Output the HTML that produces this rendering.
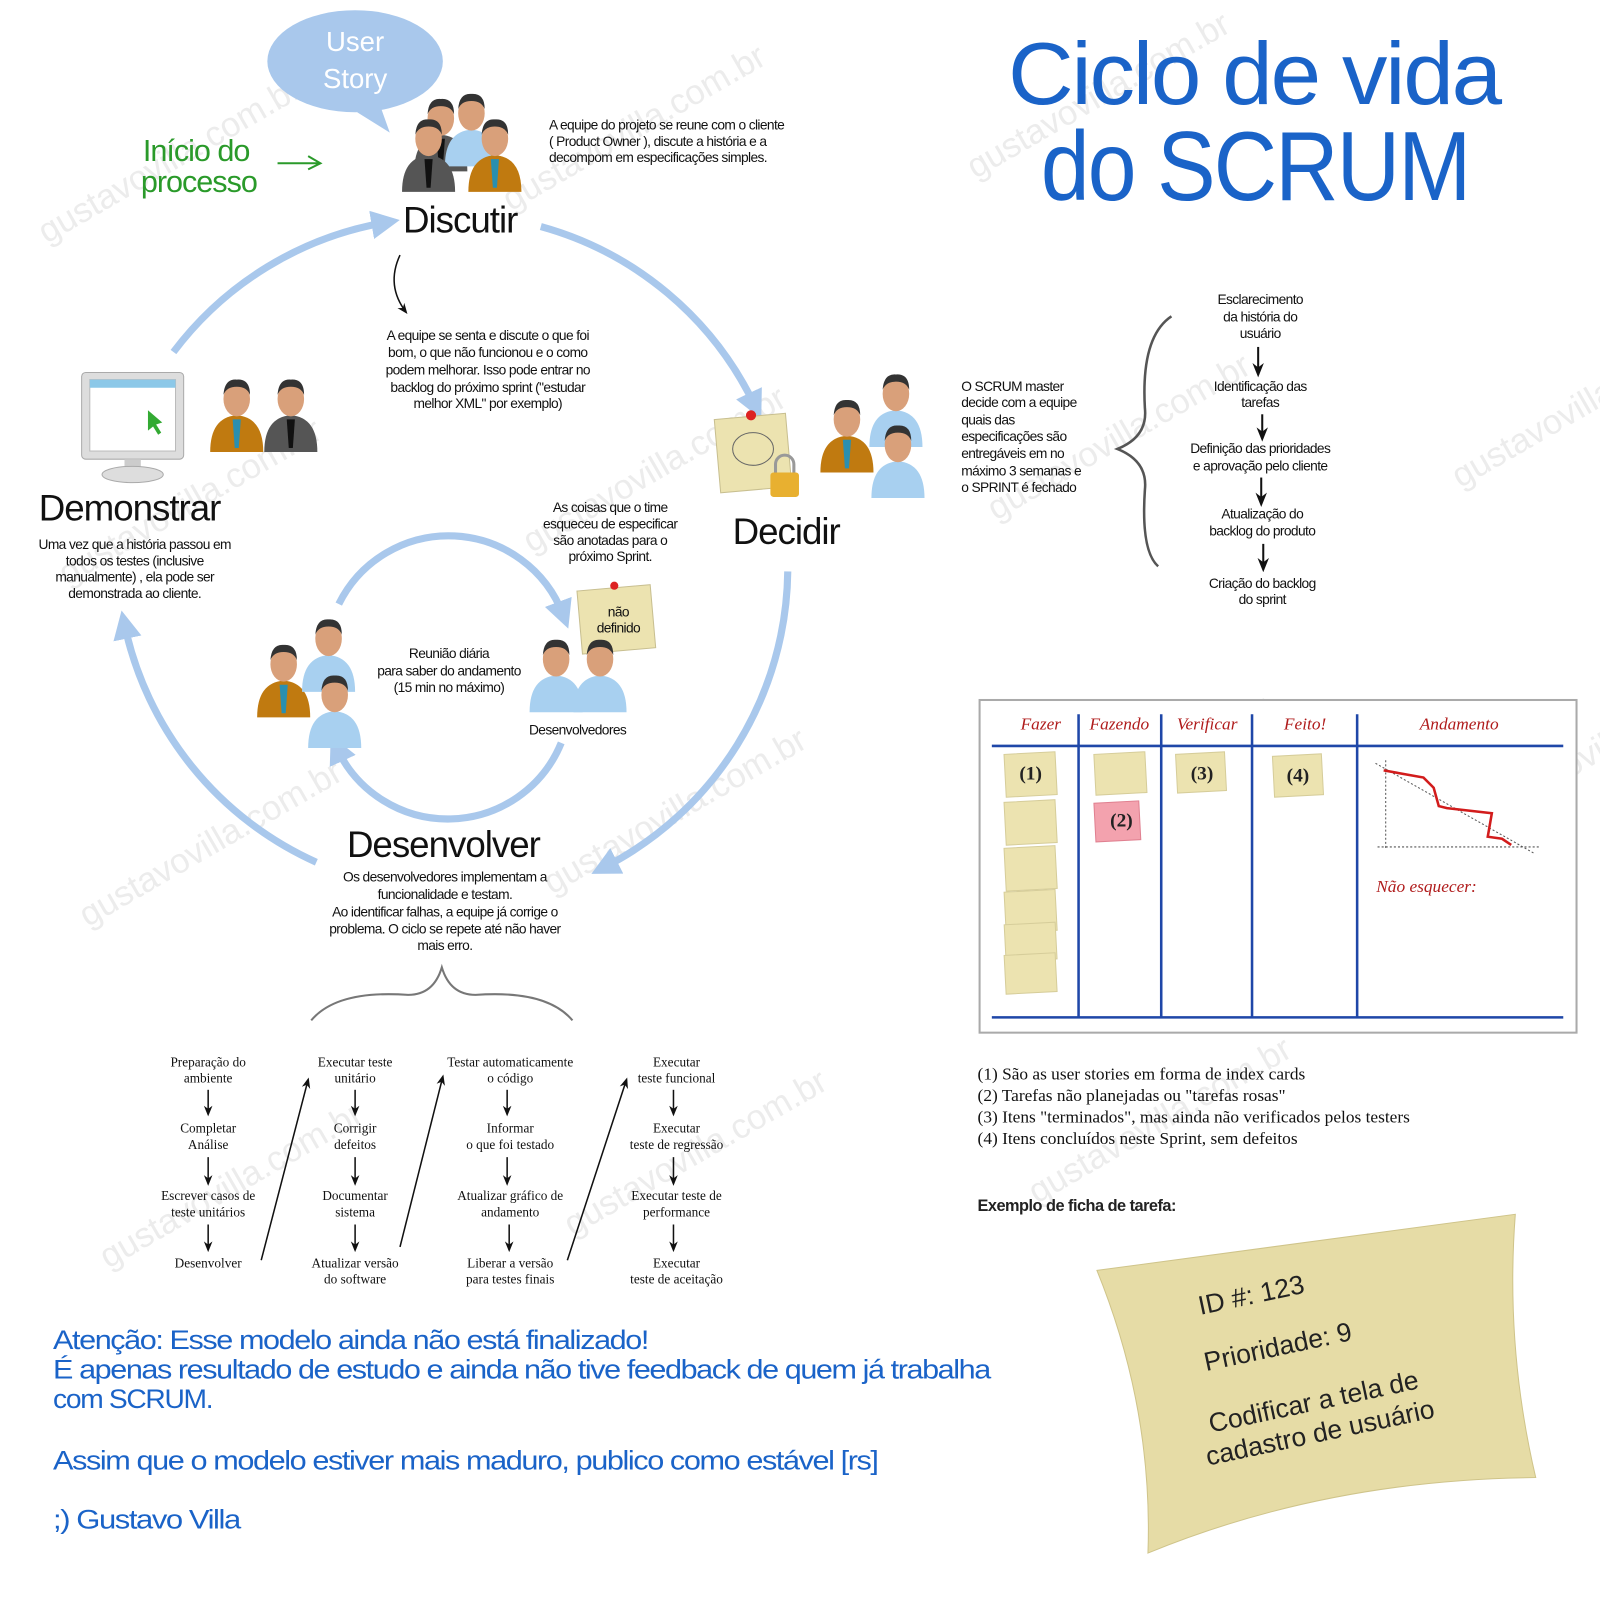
<!DOCTYPE html>
<html><head><meta charset="utf-8"><style>
html,body{margin:0;padding:0;background:#fff;}
svg{display:block}
.h{font-family:"Liberation Sans",sans-serif;}
.s{font-family:"Liberation Serif",serif;font-size:13px;fill:#111;text-anchor:middle}
.sm{font-family:"Liberation Sans",sans-serif;font-size:13.5px;fill:#111;letter-spacing:-0.6px}
.c{text-anchor:middle}
.b{font-family:"Liberation Sans",sans-serif;fill:#1a63c8;font-size:26px;letter-spacing:-1.2px}
.wm{font-family:"Liberation Sans",sans-serif;font-size:34px;fill:#ececec}
</style></head><body>
<svg width="1600" height="1600" viewBox="0 0 1568 1568" xmlns="http://www.w3.org/2000/svg">
<defs>
<marker id="ab" viewBox="0 0 10 10" refX="5" refY="5" markerWidth="4" markerHeight="4" orient="auto"><path d="M0,0 L10,5 L0,10 z" fill="#a9c8ec"/></marker>
<marker id="ak" viewBox="0 0 10 10" refX="8" refY="5" markerWidth="7" markerHeight="7" orient="auto"><path d="M0,1 L10,5 L0,9 L3,5 z" fill="#111"/></marker>
<g id="pO"><path d="M-26,48 Q-26,14 0,12 Q26,14 26,48 z" fill="#c07a10"/><path d="M-4,16 L4,16 L2,44 L-2,44z" fill="#2a8fb0"/><ellipse cx="0" cy="-4" rx="13" ry="17" fill="#d9a07a"/><path d="M-13,-8 Q-12,-24 0,-23 Q13,-24 13,-8 Q10,-16 0,-16 Q-10,-16 -13,-8z" fill="#333"/></g>
<g id="pG"><path d="M-26,48 Q-26,14 0,12 Q26,14 26,48 z" fill="#555"/><path d="M-4,16 L4,16 L2,44 L-2,44z" fill="#111"/><ellipse cx="0" cy="-4" rx="13" ry="17" fill="#d9a07a"/><path d="M-13,-8 Q-12,-24 0,-23 Q13,-24 13,-8 Q10,-16 0,-16 Q-10,-16 -13,-8z" fill="#333"/></g>
<g id="pB"><path d="M-26,48 Q-26,14 0,12 Q26,14 26,48 z" fill="#a8d0f0"/><ellipse cx="0" cy="-4" rx="13" ry="17" fill="#d9a07a"/><path d="M-13,-8 Q-12,-24 0,-23 Q13,-24 13,-8 Q10,-16 0,-16 Q-10,-16 -13,-8z" fill="#333"/></g>
</defs>
<rect width="1568" height="1568" fill="#fff"/>
<g transform="rotate(-30)">
<text class="wm" x="-80" y="230">gustavovilla.com.br</text><text class="wm" x="330" y="430">gustavovilla.com.br</text><text class="wm" x="740" y="630">gustavovilla.com.br</text>
<text class="wm" x="-230" y="530">gustavovilla.com.br</text><text class="wm" x="180" y="730">gustavovilla.com.br</text><text class="wm" x="590" y="930">gustavovilla.com.br</text><text class="wm" x="1000" y="1130">gustavovilla.com.br</text>
<text class="wm" x="-380" y="830">gustavovilla.com.br</text><text class="wm" x="30" y="1030">gustavovilla.com.br</text><text class="wm" x="440" y="1230">gustavovilla.com.br</text><text class="wm" x="850" y="1430">gustavovilla.com.br</text>
<text class="wm" x="-530" y="1130">gustavovilla.com.br</text><text class="wm" x="-120" y="1330">gustavovilla.com.br</text><text class="wm" x="290" y="1530">gustavovilla.com.br</text>
</g>
<text x="988" y="102" class="h" font-size="86" fill="#1a63c8" letter-spacing="-2" textLength="482" lengthAdjust="spacingAndGlyphs">Ciclo de vida</text>
<text x="1020" y="196" class="h" font-size="96" fill="#1a63c8" letter-spacing="-2" textLength="420" lengthAdjust="spacingAndGlyphs">do SCRUM</text>
<path d="M350,110 L382,130 L372,102 z" fill="#a9c8ec"/>
<ellipse cx="348" cy="60" rx="86" ry="50" fill="#a9c8ec"/>
<text x="348" y="50" class="h c" font-size="27" fill="#fff">User</text>
<text x="348" y="86" class="h c" font-size="27" fill="#fff">Story</text>
<text x="140" y="158" class="h" font-size="30" fill="#2a9a2a" letter-spacing="-1">Início do</text>
<text x="138" y="188" class="h" font-size="30" fill="#2a9a2a" letter-spacing="-1">processo</text>
<path d="M272,160 L312,160 M302,153 L314,160 L302,166" stroke="#2a9a2a" stroke-width="2" fill="none"/>
<use href="#pG" x="432" y="120"/><use href="#pB" x="462" y="115"/><use href="#pG" x="420" y="140"/><use href="#pO" x="485" y="140"/>
<text x="395" y="228" class="h" font-size="36" fill="#111" letter-spacing="-1">Discutir</text>
<text class="sm" x="538" y="127">A equipe do projeto se reune com o cliente</text>
<text class="sm" x="538" y="143">( Product Owner ), discute a história e a</text>
<text class="sm" x="538" y="159">decompom em especificações simples.</text>
<g stroke="#a9c8ec" stroke-width="7" fill="none" marker-end="url(#ab)">
<path d="M170,345 A330,330 0 0 1 378,218"/>
<path d="M530,222 A330,330 0 0 1 740,398"/>
<path d="M772,560 A330,330 0 0 1 592,850"/>
<path d="M310,845 A330,330 0 0 1 122,612"/>
<path d="M332,592 A120,120 0 0 1 552,603"/>
<path d="M550,728 A120,120 0 0 1 330,733"/>
</g>
<path d="M392,250 Q378,280 398,306" stroke="#111" stroke-width="1.5" fill="none" marker-end="url(#ak)"/>
<g class="sm" style="text-anchor:middle">
<text x="478" y="333">A equipe se senta e discute o que foi</text>
<text x="478" y="350">bom, o que não funcionou e o como</text>
<text x="478" y="367">podem melhorar. Isso pode entrar no</text>
<text x="478" y="384">backlog do próximo sprint ("estudar</text>
<text x="478" y="400">melhor XML" por exemplo)</text>
</g>
<rect x="80" y="365" width="100" height="85" rx="4" fill="#ddd" stroke="#aaa"/>
<rect x="88" y="372" width="84" height="70" fill="#fff" stroke="#bbb"/>
<rect x="88" y="372" width="84" height="8" fill="#8cc8e8"/>
<path d="M145,402 L145,422 L150,418 L155,426 L158,424 L153,416 L159,414z" fill="#3a3"/>
<rect x="122" y="450" width="16" height="10" fill="#ccc"/><ellipse cx="130" cy="465" rx="30" ry="8" fill="#ddd" stroke="#aaa"/>
<use href="#pO" x="232" y="395"/><use href="#pG" x="285" y="395"/>
<text x="38" y="510" class="h" font-size="36" fill="#111" letter-spacing="-1">Demonstrar</text>
<g class="sm" style="text-anchor:middle">
<text x="132" y="538">Uma vez que a história passou em</text>
<text x="132" y="554">todos os testes (inclusive</text>
<text x="132" y="570">manualmente) , ela pode ser</text>
<text x="132" y="586">demonstrada ao cliente.</text>
</g>
<rect x="703" y="408" width="70" height="72" fill="#ece3b0" stroke="#c8bf90" transform="rotate(-5 738 444)"/>
<ellipse cx="738" cy="440" rx="20" ry="16" fill="none" stroke="#666"/>
<circle cx="736" cy="407" r="5" fill="#d22"/>
<rect x="755" y="463" width="28" height="24" rx="3" fill="#e8b030"/><path d="M760,463 v-8 a9,9 0 0 1 18,0 v8" stroke="#999" stroke-width="3" fill="none"/>
<use href="#pO" x="830" y="415"/><use href="#pB" x="878" y="390"/><use href="#pB" x="880" y="440"/>
<text x="718" y="533" class="h" font-size="36" fill="#111" letter-spacing="-1">Decidir</text>
<g class="sm" style="text-anchor:middle">
<text x="598" y="502">As coisas que o time</text>
<text x="598" y="518">esqueceu de especificar</text>
<text x="598" y="534">são anotadas para o</text>
<text x="598" y="550">próximo Sprint.</text>
</g>
<rect x="568" y="576" width="72" height="62" fill="#ece3b0" stroke="#c8bf90" transform="rotate(-5 604 607)"/>
<circle cx="602" cy="574" r="4" fill="#d22"/>
<text x="606" y="604" class="sm" style="text-anchor:middle">não</text><text x="606" y="620" class="sm" style="text-anchor:middle">definido</text>
<use href="#pO" x="278" y="655"/><use href="#pB" x="322" y="630"/><use href="#pB" x="328" y="685"/>
<use href="#pB" x="545" y="650"/><use href="#pB" x="588" y="650"/>
<g class="sm" style="text-anchor:middle">
<text x="440" y="645">Reunião diária</text>
<text x="440" y="662">para saber do andamento</text>
<text x="440" y="678">(15 min no máximo)</text>
<text x="566" y="720">Desenvolvedores</text>
</g>
<text x="340" y="840" class="h" font-size="36" fill="#111" letter-spacing="-1">Desenvolver</text>
<g class="sm" style="text-anchor:middle">
<text x="436" y="864">Os desenvolvedores implementam a</text>
<text x="436" y="881">funcionalidade e testam.</text>
<text x="436" y="898">Ao identificar falhas, a equipe já corrige o</text>
<text x="436" y="915">problema. O ciclo se repete até não haver</text>
<text x="436" y="931">mais erro.</text>
</g>
<path d="M305,1000 Q330,970 400,975 Q425,975 433,948 Q441,975 466,975 Q536,970 561,1000" stroke="#777" stroke-width="2" fill="none"/>
<g class="s">
<text x="204" y="1045">Preparação do</text><text x="204" y="1061">ambiente</text>
<text x="204" y="1110">Completar</text><text x="204" y="1126">Análise</text>
<text x="204" y="1176">Escrever casos de</text><text x="204" y="1192">teste unitários</text>
<text x="204" y="1242">Desenvolver</text>
<text x="348" y="1045">Executar teste</text><text x="348" y="1061">unitário</text>
<text x="348" y="1110">Corrigir</text><text x="348" y="1126">defeitos</text>
<text x="348" y="1176">Documentar</text><text x="348" y="1192">sistema</text>
<text x="348" y="1242">Atualizar versão</text><text x="348" y="1258">do software</text>
<text x="500" y="1045">Testar automaticamente</text><text x="500" y="1061">o código</text>
<text x="500" y="1110">Informar</text><text x="500" y="1126">o que foi testado</text>
<text x="500" y="1176">Atualizar gráfico de</text><text x="500" y="1192">andamento</text>
<text x="500" y="1242">Liberar a versão</text><text x="500" y="1258">para testes finais</text>
<text x="663" y="1045">Executar</text><text x="663" y="1061">teste funcional</text>
<text x="663" y="1110">Executar</text><text x="663" y="1126">teste de regressão</text>
<text x="663" y="1176">Executar teste de</text><text x="663" y="1192">performance</text>
<text x="663" y="1242">Executar</text><text x="663" y="1258">teste de aceitação</text>
</g>
<g stroke="#111" stroke-width="1.5" marker-end="url(#ak)">
<line x1="204" y1="1068" x2="204" y2="1092"/><line x1="204" y1="1134" x2="204" y2="1160"/><line x1="204" y1="1200" x2="204" y2="1225"/>
<line x1="348" y1="1068" x2="348" y2="1092"/><line x1="348" y1="1134" x2="348" y2="1160"/><line x1="348" y1="1200" x2="348" y2="1225"/>
<line x1="497" y1="1068" x2="497" y2="1092"/><line x1="497" y1="1134" x2="497" y2="1160"/><line x1="499" y1="1200" x2="499" y2="1225"/>
<line x1="660" y1="1068" x2="660" y2="1092"/><line x1="660" y1="1134" x2="660" y2="1160"/><line x1="660" y1="1200" x2="660" y2="1225"/>
<line x1="256" y1="1235" x2="302" y2="1058"/><line x1="392" y1="1222" x2="434" y2="1055"/><line x1="556" y1="1235" x2="614" y2="1058"/>
</g>
<g class="sm">
<text x="942" y="383">O SCRUM master</text><text x="942" y="399">decide com a equipe</text><text x="942" y="416">quais das</text>
<text x="942" y="432">especificações são</text><text x="942" y="449">entregáveis em no</text><text x="942" y="466">máximo 3 semanas e</text><text x="942" y="482">o SPRINT é fechado</text>
</g>
<path d="M1148,310 Q1118,330 1122,400 Q1125,428 1095,440 Q1125,452 1122,480 Q1118,540 1135,555" stroke="#555" stroke-width="2.5" fill="none"/>
<g class="sm" style="text-anchor:middle">
<text x="1235" y="298">Esclarecimento</text><text x="1235" y="315">da história do</text><text x="1235" y="331">usuário</text>
<text x="1235" y="383">Identificação das</text><text x="1235" y="399">tarefas</text>
<text x="1235" y="444">Definição das prioridades</text><text x="1235" y="461">e aprovação pelo cliente</text>
<text x="1237" y="508">Atualização do</text><text x="1237" y="525">backlog do produto</text>
<text x="1237" y="576">Criação do backlog</text><text x="1237" y="592">do sprint</text>
</g>
<g stroke="#111" stroke-width="2" marker-end="url(#ak)">
<line x1="1233" y1="340" x2="1233" y2="367"/><line x1="1237" y1="406" x2="1237" y2="430"/><line x1="1236" y1="468" x2="1236" y2="494"/><line x1="1238" y1="533" x2="1238" y2="558"/>
</g>
<rect x="960" y="686" width="585" height="326" fill="#fff" stroke="#aaa" stroke-width="2"/>
<g stroke="#1f47a8" stroke-width="2.5">
<line x1="972" y1="731" x2="1532" y2="731"/><line x1="972" y1="997" x2="1532" y2="997"/>
<line x1="1057" y1="700" x2="1057" y2="997"/><line x1="1138" y1="700" x2="1138" y2="997"/><line x1="1227" y1="700" x2="1227" y2="997"/><line x1="1330" y1="700" x2="1330" y2="997"/>
</g>
<g font-family="Liberation Serif,serif" font-style="italic" font-size="17" fill="#b01c1c" text-anchor="middle">
<text x="1020" y="715">Fazer</text><text x="1097" y="715">Fazendo</text><text x="1183" y="715">Verificar</text><text x="1279" y="715">Feito!</text><text x="1430" y="715">Andamento</text>
<text x="1398" y="874">Não esquecer:</text>
</g>
<g fill="#ece3b0" stroke="#d6cd9a">
<rect x="985" y="738" width="50" height="42" transform="rotate(-3 1010 759)"/>
<rect x="985" y="785" width="50" height="42" transform="rotate(-3 1010 806)"/>
<rect x="985" y="830" width="50" height="42" transform="rotate(-3 1010 851)"/>
<rect x="985" y="873" width="50" height="40" transform="rotate(-3 1010 893)"/>
<rect x="985" y="905" width="50" height="36" transform="rotate(-3 1010 923)"/>
<rect x="985" y="935" width="50" height="38" transform="rotate(-3 1010 954)"/>
<rect x="1073" y="738" width="50" height="40" transform="rotate(-3 1098 758)"/>
<rect x="1153" y="738" width="48" height="38" transform="rotate(-3 1177 757)"/>
<rect x="1248" y="740" width="48" height="40" transform="rotate(-3 1272 760)"/>
<rect x="1073" y="786" width="44" height="38" fill="#f3a2ae" stroke="#e08090" transform="rotate(-3 1095 805)"/>
</g>
<g font-family="Liberation Serif,serif" font-size="19" font-weight="bold" fill="#222" text-anchor="middle">
<text x="1010" y="764">(1)</text><text x="1099" y="810">(2)</text><text x="1178" y="764">(3)</text><text x="1272" y="766">(4)</text>
</g>
<g stroke="#555" stroke-width="1" stroke-dasharray="2,2" fill="none">
<line x1="1358" y1="745" x2="1358" y2="832"/><line x1="1350" y1="830" x2="1508" y2="830"/><line x1="1348" y1="748" x2="1503" y2="836"/>
</g>
<polyline points="1356,755 1395,762 1405,772 1410,790 1418,792 1462,797 1458,820 1472,822 1481,828" fill="none" stroke="#d21c1c" stroke-width="2.5"/>
<g font-family="Liberation Serif,serif" font-size="17" fill="#111">
<text x="958" y="1058">(1) São as user stories em forma de index cards</text>
<text x="958" y="1079">(2) Tarefas não planejadas ou "tarefas rosas"</text>
<text x="958" y="1100">(3) Itens "terminados", mas ainda não verificados pelos testers</text>
<text x="958" y="1121">(4) Itens concluídos neste Sprint, sem defeitos</text>
</g>
<text x="958" y="1187" class="h" font-size="16" font-weight="bold" fill="#222" letter-spacing="-0.5">Exemplo de ficha de tarefa:</text>
<path d="M1075,1245 L1485,1190 Q1475,1320 1505,1448 Q1300,1450 1125,1522 Q1130,1380 1075,1245z" fill="#e6dca6" stroke="#cfc48a"/>
<g transform="rotate(-12 1280 1330)" font-family="Liberation Sans,sans-serif" font-size="26" fill="#222" text-anchor="middle">
<text x="1240" y="1268">ID #: 123</text>
<text x="1255" y="1323">Prioridade: 9</text>
<text x="1278" y="1383">Codificar a tela de</text>
<text x="1278" y="1414">cadastro de usuário</text>
</g>
<text class="b" x="52" y="1322" textLength="583" lengthAdjust="spacingAndGlyphs">Atenção: Esse modelo ainda não está finalizado!</text>
<text class="b" x="52" y="1351" textLength="918" lengthAdjust="spacingAndGlyphs">É apenas resultado de estudo e ainda não tive feedback de quem já trabalha</text>
<text class="b" x="52" y="1380" textLength="156" lengthAdjust="spacingAndGlyphs">com SCRUM.</text>
<text class="b" x="52" y="1440" textLength="808" lengthAdjust="spacingAndGlyphs">Assim que o modelo estiver mais maduro, publico como estável [rs]</text>
<text class="b" x="52" y="1498" textLength="183" lengthAdjust="spacingAndGlyphs">;) Gustavo Villa</text>
</svg>
</body></html>
